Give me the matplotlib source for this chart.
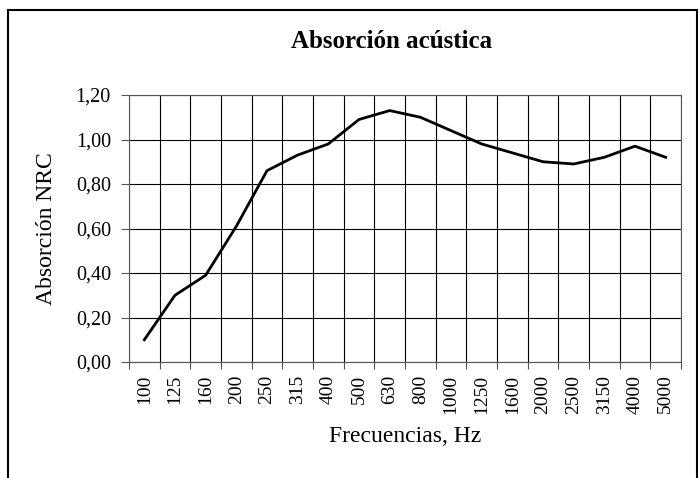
import numpy as np
import matplotlib.pyplot as plt
from matplotlib.patches import Rectangle
from matplotlib.ticker import FixedLocator

plt.rcParams['font.family'] = ['Liberation Serif', 'DejaVu Serif']

frequencies = ['100', '125', '160', '200', '250', '315', '400', '500', '630', '800',
               '1000', '1250', '1600', '2000', '2500', '3150', '4000', '5000']
absorption = [0.10, 0.30, 0.39, 0.61, 0.86, 0.93, 0.98, 1.09, 1.13, 1.10,
              1.04, 0.98, 0.94, 0.90, 0.89, 0.92, 0.97, 0.92]
y_ticks = [0.0, 0.2, 0.4, 0.6, 0.8, 1.0, 1.2]

W, H = 700, 478
fig = plt.figure(figsize=(7, 4.78), dpi=100)
# plot area in pixels: left 129, right 681, top 95, bottom 362
ax = fig.add_axes([129 / W, 1 - 362 / H, (681 - 129) / W, (362 - 95) / H])

x = np.arange(len(frequencies))
ax.plot(x, absorption, color='black', linewidth=2)

ax.set_xlim(-0.5, len(frequencies) - 0.5)
ax.set_ylim(0, 1.2)

ax.set_xticks(x)
ax.set_xticklabels(frequencies, rotation=90, fontsize=14)
ax.xaxis.set_minor_locator(FixedLocator(np.arange(len(frequencies) + 1) - 0.5))
ax.tick_params(axis='x', which='major', length=0, pad=9)
ax.tick_params(axis='x', which='minor', length=5, width=0.8, color='#555555', direction='out')
ax.grid(True, axis='x', which='minor', color='black', linewidth=0.8)

ax.set_yticks(y_ticks)
ax.set_yticklabels(['{:.2f}'.format(v).replace('.', ',') for v in y_ticks], fontsize=14.5)
ax.tick_params(axis='y', length=6, width=0.8, color='#555555', direction='out', pad=7)
ax.grid(True, axis='y', which='major', color='black', linewidth=0.8)

for s in ax.spines.values():
    s.set_color('#555555')
    s.set_linewidth(0.8)

ax.set_ylabel('Absorción NRC', fontsize=17)
ax.yaxis.set_label_coords((47 - 129) / 552, 0.5)
ax.yaxis.label.set_va('center')
ax.set_xlabel('Frecuencias, Hz', fontsize=17)
ax.xaxis.set_label_coords(0.5, (362 - 437) / 267)
ax.xaxis.label.set_va('center')

fig.text(392 / W, 1 - 42 / H, 'Absorción acústica', fontsize=18, fontweight='bold',
         ha='center', va='center')

# chart border (bottom edge lies outside the picture)
fig.patches.append(Rectangle((8 / W, -0.05), (697 - 8) / W, 1.05 - 10 / H,
                             transform=fig.transFigure, fill=False,
                             edgecolor='black', linewidth=1.5, clip_on=False))

fig.savefig('out.png', dpi=100)
